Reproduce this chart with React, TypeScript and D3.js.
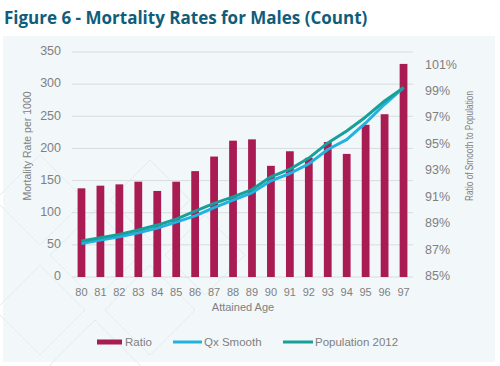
import React from "react";
import * as d3 from "d3";

const ages = ["80","81","82","83","84","85","86","87","88","89","90","91","92","93","94","95","96","97"];
const ratio = [0.917,0.919,0.920,0.922,0.915,0.922,0.930,0.941,0.953,0.954,0.934,0.945,0.940,0.952,0.943,0.965,0.973,1.011];
const qxSmooth = [52,57.5,62.6,68.8,76,85.4,95.2,108,119.6,131,149.6,161,176,198.3,213.8,239.6,268.7,294.6];
const population = [55.9,61,66.3,73,80.8,90,102.5,114.5,124.7,136,155.8,167.7,185,208.6,227.2,249,273.8,294.6];
const leftTicks = [0,50,100,150,200,250,300,350];
const rightTicks = [0.85,0.87,0.89,0.91,0.93,0.95,0.97,0.99,1.01];

const W = 500, H = 366;
const plot = { left: 72, right: 413, top: 52, bottom: 277 };
const C = { bar: "#a91b53", qx: "#22b2e0", pop: "#17a099", grid: "#d9dcde", text: "#808080", title: "#0f5d7a", panel: "#f2f7f9" };
const FONT = "'Liberation Sans', Arial, sans-serif";

export default function App() {
  const x = d3.scaleBand<string>().domain(ages).range([plot.left, plot.right]).paddingInner(0.59).paddingOuter(0.295);
  const yL = d3.scaleLinear().domain([0, 350]).range([plot.bottom, plot.top]);
  const yR = d3.scaleLinear().domain([0.85, 1.02]).range([plot.bottom, plot.top]);
  const cx = (a: string) => (x(a) ?? 0) + x.bandwidth() / 2;
  const line = d3.line<number>().x((_, i) => cx(ages[i])).y((d) => yL(d));
  const pct = d3.format(".0%");

  const diamonds = [
    [40, 200, 45], [95, 255, 45], [40, 310, 45], [150, 310, 45], [95, 365, 45], [205, 255, 40], [150, 200, 40]
  ];

  return (
    <svg width={W} height={H} style={{ position: "absolute", left: 0, top: 0 }}>
      <rect x={0} y={0} width={W} height={H} fill="#ffffff" />
      <rect x={3} y={36} width={492} height={326} fill={C.panel} />
      <g stroke="#e2ebee" strokeWidth={1} fill="none">
        {diamonds.map(([dx, dy, r], i) => (
          <path key={i} d={`M${dx},${dy - r}L${dx + r},${dy}L${dx},${dy + r}L${dx - r},${dy}Z`} />
        ))}
      </g>
      <text x={4} y={24} fontFamily="'Open Sans', 'Noto Sans', sans-serif" fontWeight={700} fontSize={17} fill={C.title}>
        Figure 6 - Mortality Rates for Males (Count)
      </text>

      <g>
        {leftTicks.map((t) => (
          <line key={t} x1={plot.left} x2={plot.right} y1={yL(t)} y2={yL(t)} stroke={C.grid} strokeWidth={1} />
        ))}
      </g>
      <g fontFamily={FONT} fontSize={12.5} fill={C.text}>
        {leftTicks.map((t) => (
          <text key={t} x={61} y={yL(t)} textAnchor="end" dominantBaseline="middle">{t}</text>
        ))}
        {rightTicks.map((t) => (
          <text key={t} x={425} y={yR(t)} dominantBaseline="middle">{pct(t)}</text>
        ))}
      </g>
      <g fontFamily={FONT} fontSize={11} fill={C.text}>
        {ages.map((a) => (
          <text key={a} x={cx(a)} y={296} textAnchor="middle">{a}</text>
        ))}
      </g>

      <g fill={C.bar}>
        {ages.map((a, i) => (
          <rect key={a} x={x(a)} y={yR(ratio[i])} width={x.bandwidth()} height={plot.bottom - yR(ratio[i])} />
        ))}
      </g>
      <path d={line(qxSmooth) ?? ""} fill="none" stroke={C.qx} strokeWidth={3} strokeLinejoin="round" />
      <path d={line(population) ?? ""} fill="none" stroke={C.pop} strokeWidth={3} strokeLinejoin="round" />

      <g fontFamily={FONT} fill={C.text}>
        <text x={243} y={311} textAnchor="middle" fontSize={11}>Attained Age</text>
        <text transform="translate(31,146) rotate(-90)" textAnchor="middle" fontSize={10.5}>Mortality Rate per 1000</text>
        <text transform="translate(473,146) rotate(-90)" textAnchor="middle" fontSize={10.5} textLength={110} lengthAdjust="spacingAndGlyphs">Ratio of Smooth to Population</text>
      </g>

      <g fontFamily={FONT} fontSize={11.5} fill={C.text}>
        <rect x={97} y={339.5} width={25} height={5} fill={C.bar} />
        <text x={125} y={346}>Ratio</text>
        <line x1={173} x2={202} y1={342} y2={342} stroke={C.qx} strokeWidth={3} />
        <text x={204} y={346}>Qx Smooth</text>
        <line x1={283} x2={313} y1={342} y2={342} stroke={C.pop} strokeWidth={3} />
        <text x={315} y={346}>Population 2012</text>
      </g>
    </svg>
  );
}
